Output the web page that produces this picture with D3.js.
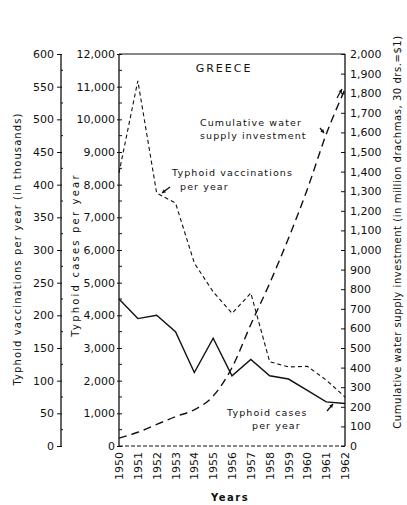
<!DOCTYPE html>
<html>
<head>
<meta charset="utf-8">
<script src="https://cdn.jsdelivr.net/npm/d3@7"></script>
<style>
  body { margin: 0; background: #fff; }
  svg text { font-family: "DejaVu Sans", sans-serif; fill: #111; }
</style>
</head>
<body>
<div id="chart"></div>
<script>
var years = [1950, 1951, 1952, 1953, 1954, 1955, 1956, 1957, 1958, 1959, 1960, 1961, 1962];
var cases = [4500, 3900, 4000, 3500, 2250, 3300, 2150, 2650, 2150, 2050, 1700, 1350, 1300];
var vaccinations = [418, 559, 387, 372, 280, 236, 203, 234, 129, 121, 122, 101, 75];
var investment = [40, 70, 110, 150, 185, 255, 400, 620, 830, 1060, 1310, 1590, 1820];
var vaccTicks = [0, 50, 100, 150, 200, 250, 300, 350, 400, 450, 500, 550, 600];
var caseTicks = [0, 1000, 2000, 3000, 4000, 5000, 6000, 7000, 8000, 9000, 10000, 11000, 12000];
var investTicks = d3.range(0, 2001, 100);

;(function(d3){
  var width = 407, height = 505;
  var left = 119, right = 345, top = 54, bottom = 446;
  var vaccAxisX = 61;

  var svg = d3.select("#chart").append("svg")
              .attr("width", width)
              .attr("height", height);

  var x = d3.scaleLinear().domain([1950, 1962]).range([left, right]);
  var yCases = d3.scaleLinear().domain([0, 12000]).range([bottom, top]);
  var yVacc = d3.scaleLinear().domain([0, 600]).range([bottom, top]);
  var yInv = d3.scaleLinear().domain([0, 2000]).range([bottom, top]);

  var fmt = d3.format(",");

  // frame
  svg.append("line").attr("x1", left).attr("x2", right).attr("y1", top).attr("y2", top)
     .attr("stroke", "#111").attr("stroke-width", 1);
  svg.append("line").attr("x1", left).attr("x2", right).attr("y1", bottom).attr("y2", bottom)
     .attr("stroke", "#111").attr("stroke-width", 1).attr("stroke-dasharray", "4,2");

  // vaccination axis (far left)
  var gVacc = svg.append("g").attr("transform", "translate(" + vaccAxisX + ",0)");
  gVacc.call(d3.axisLeft(yVacc).tickValues(vaccTicks).tickSize(4).tickPadding(3).tickFormat(d3.format("d")));
  gVacc.selectAll(".tick line").attr("x2", -4).attr("x1", 1);
  gVacc.selectAll(".minor").data(d3.range(25, 600, 50)).enter().append("line")
       .attr("x1", 0).attr("x2", 2)
       .attr("y1", function(d){ return yVacc(d); })
       .attr("y2", function(d){ return yVacc(d); })
       .attr("stroke", "#111");

  // cases axis (plot left edge)
  var gCases = svg.append("g").attr("transform", "translate(" + left + ",0)");
  gCases.call(d3.axisLeft(yCases).tickValues(caseTicks).tickSize(2).tickPadding(2).tickFormat(fmt));
  gCases.selectAll(".tick line").attr("x1", 3);
  gCases.selectAll(".minor").data(d3.range(500, 12000, 1000)).enter().append("line")
        .attr("x1", 0).attr("x2", 3)
        .attr("y1", function(d){ return yCases(d); })
        .attr("y2", function(d){ return yCases(d); })
        .attr("stroke", "#111");

  // investment axis (right)
  var gInv = svg.append("g").attr("transform", "translate(" + right + ",0)");
  gInv.call(d3.axisRight(yInv).tickValues(investTicks).tickSize(0).tickPadding(5).tickFormat(fmt));
  gInv.selectAll(".tick line").attr("x1", -4).attr("x2", 0);

  // x axis labels
  var gX = svg.append("g").attr("class", "x-axis");
  gX.selectAll("text").data(years).enter().append("text")
    .attr("transform", function(d){ return "translate(" + (x(d) + 4) + ",452) rotate(-90)"; })
    .attr("text-anchor", "end")
    .attr("font-size", 11)
    .text(function(d){ return d; });

  [gVacc, gCases, gInv].forEach(function(g){
    g.select(".domain").attr("stroke", "#111").attr("stroke-width", 1.3);
    g.selectAll(".tick line").attr("stroke", "#111");
    g.selectAll(".tick text").attr("font-size", 11).attr("font-family", "DejaVu Sans, sans-serif").attr("fill", "#111");
  });
  gVacc.select(".domain").attr("d", "M0," + top + "V" + bottom);
  gCases.select(".domain").attr("d", "M0," + top + "V" + bottom);
  gInv.select(".domain").attr("d", "M0," + top + "V" + bottom);

  // series
  var lineCases = d3.line()
      .x(function(d, i){ return x(years[i]); })
      .y(function(d){ return yCases(d); });
  var lineVacc = d3.line()
      .x(function(d, i){ return x(years[i]); })
      .y(function(d){ return yVacc(d); });
  var lineInv = d3.line()
      .curve(d3.curveMonotoneX)
      .x(function(d, i){ return x(years[i]); })
      .y(function(d){ return yInv(d); });

  svg.append("path").attr("d", lineCases(cases))
     .attr("fill", "none").attr("stroke", "#111").attr("stroke-width", 1.4);
  svg.append("path").attr("d", lineVacc(vaccinations))
     .attr("fill", "none").attr("stroke", "#111").attr("stroke-width", 1.1)
     .attr("stroke-dasharray", "4,3");
  svg.append("path").attr("d", lineInv(investment))
     .attr("fill", "none").attr("stroke", "#111").attr("stroke-width", 1.4)
     .attr("stroke-dasharray", "8,5");

  // titles
  function label(txt, tx, ty, rot, size, spacing, weight){
    svg.append("text")
       .attr("transform", "translate(" + tx + "," + ty + ")" + (rot ? " rotate(" + rot + ")" : ""))
       .attr("text-anchor", "middle")
       .attr("font-size", size)
       .attr("letter-spacing", spacing)
       .attr("font-weight", weight || "normal")
       .text(txt);
  }
  label("Typhoid vaccinations per year (in thousands)", 21, 249, -90, 10, 1.1);
  label("Typhoid cases per year", 79, 255, -90, 10, 2.2);
  label("Cumulative water supply investment (in million drachmas, 30 drs.=$1)", 401, 232, -90, 10, 0.55);
  label("Years", 230, 501, 0, 10, 1.5, "bold");
  label("GREECE", 224, 72, 0, 11, 2);

  // annotations
  function note(txt, tx, ty){
    svg.append("text").attr("x", tx).attr("y", ty)
       .attr("font-size", 9.5).attr("letter-spacing", 1.1).text(txt);
  }
  note("Cumulative water", 200, 126);
  note("supply investment", 200, 139);
  note("Typhoid vaccinations", 172, 176);
  note("per year", 180, 190);
  note("Typhoid cases", 227, 416);
  note("per year", 252, 429);

  // pointers
  function pointer(x1, y1, x2, y2){
    svg.append("line").attr("x1", x1).attr("y1", y1).attr("x2", x2).attr("y2", y2)
       .attr("stroke", "#111").attr("stroke-width", 1.3);
    var a = Math.atan2(y2 - y1, x2 - x1);
    var s = 4;
    var p = [[x2, y2],
             [x2 - s * Math.cos(a - 0.5), y2 - s * Math.sin(a - 0.5)],
             [x2 - s * Math.cos(a + 0.5), y2 - s * Math.sin(a + 0.5)]];
    svg.append("path").attr("d", "M" + p.join("L") + "Z").attr("fill", "#111");
  }
  pointer(170, 187, 162, 193);
  pointer(320, 128, 324, 133);
  pointer(327, 411, 333, 404);
  pointer(337, 98, 342, 89);
})(d3);
</script>
</body>
</html>
